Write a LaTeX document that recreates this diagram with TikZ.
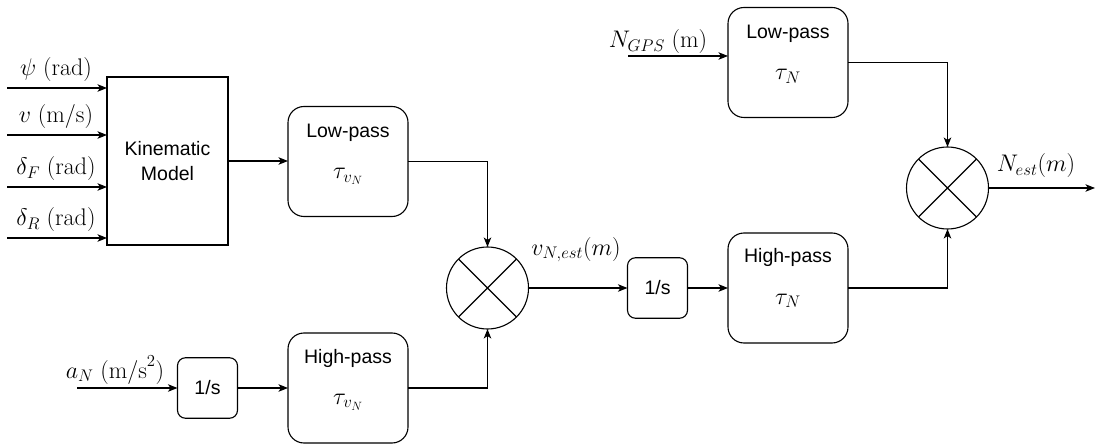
\RequirePackage{fix-cm}
\documentclass[tikz,border=0pt]{standalone}
\usepackage{fontspec}
\setsansfont{Liberation Sans}
\usetikzlibrary{arrows.meta,calc}
\tikzset{
  x=1pt, y=-1pt,
  every node/.style={inner sep=0pt, outer sep=0pt},
  ln/.style={line width=1.1pt},
  arr/.style={ln, -{Stealth[length=9.5pt,width=7.5pt,inset=2.5pt]}},
  bigbox/.style={draw, line width=1.1pt, rounded corners=16pt, minimum width=120pt, minimum height=110pt},
  intbox/.style={draw, line width=1.1pt, rounded corners=8pt, minimum width=60pt, minimum height=60.5pt,
     font=\sffamily\fontsize{19.5}{23}\selectfont},
  kmbox/.style={draw, line width=1.1pt, minimum width=121pt, minimum height=168pt, align=center,
     font=\sffamily\fontsize{19.5}{24.5}\selectfont},
  sumnode/.style={draw, line width=1.1pt, circle, minimum size=82pt},
  sftxt/.style={font=\sffamily\fontsize{19.5}{23}\selectfont, anchor=base},
  mtxt/.style={font=\fontsize{24}{28}\selectfont, anchor=base},
}
\begin{document}
\begin{tikzpicture}
\useasboundingbox (0,0) rectangle (1097,446);
% blocks
\node[kmbox] (km) at (167.5,161) {Kinematic\\Model};
\node[bigbox] (lp1) at (348,161.5) {};
\node[bigbox] (hp1) at (348,388) {};
\node[intbox] (int1) at (207.5,388) {1/s};
\node[sumnode] (sum1) at (487.5,288) {};
\node[intbox] (int2) at (657.5,288) {1/s};
\node[bigbox] (hp2) at (788,288) {};
\node[bigbox] (lp2) at (788,62.5) {};
\node[sumnode] (sum2) at (947.5,188) {};
% box texts
\node[sftxt] (lp1a) at ($(lp1.north)+(0,31)$) {Low-pass};
\node[mtxt] (lp1b) at ($(lp1.north)+(0,72)$) {$\tau_{v_N}$};
\node[sftxt] (hp1a) at ($(hp1.north)+(0,30)$) {High-pass};
\node[mtxt] (hp1b) at ($(hp1.north)+(0,71)$) {$\tau_{v_N}$};
\node[sftxt] (hp2a) at ($(hp2.north)+(0,30)$) {High-pass};
\node[mtxt] (hp2b) at ($(hp2.north)+(0,71)$) {$\tau_N$};
\node[sftxt] (lp2a) at ($(lp2.north)+(0,31)$) {Low-pass};
\node[mtxt] (lp2b) at ($(lp2.north)+(0,72)$) {$\tau_N$};
% crosses
\draw[ln] (sum1.north west) -- (sum1.south east) (sum1.north east) -- (sum1.south west);
\draw[ln] (sum2.north west) -- (sum2.south east) (sum2.north east) -- (sum2.south west);
% inputs
\coordinate (i1) at (7,88);
\coordinate (i2) at (7,135);
\coordinate (i3) at (7,187);
\coordinate (i4) at (7,238);
\coordinate (ia) at (77,388);
\coordinate (ig) at (628,56);
\coordinate (out) at (1095,188);
\draw[arr] (i1) -- (i1 -| km.west);
\draw[arr] (i2) -- (i2 -| km.west);
\draw[arr] (i3) -- (i3 -| km.west);
\draw[arr] (i4) -- (i4 -| km.west);
\node[mtxt] (l1) at (56,76) {$\psi\;(\mathrm{rad})$};
\node[mtxt] (l2) at (56,123) {$v\;(\mathrm{m/s})$};
\node[mtxt] (l3) at (56,175) {$\delta_F\;(\mathrm{rad})$};
\node[mtxt] (l4) at (56,226) {$\delta_R\;(\mathrm{rad})$};
\node[mtxt] (la) at (115,378) {$a_N\;(\mathrm{m/s}^2)$};
\node[mtxt] (lg) at (658,48) {$N_{GPS}\;(\mathrm{m})$};
\node[mtxt] (lv) at (576,255) {$v_{N,est}(m)$};
\node[mtxt] (ln) at (1036,172) {$N_{est}(m)$};
% connectors
\draw[arr] (km.east) -- (km.east -| lp1.west);
\draw[arr] (lp1.east) -| (sum1.north);
\draw[arr] (ia) -- (int1.west);
\draw[arr] (int1.east) -- (hp1.west);
\draw[arr] (hp1.east) -| (sum1.south);
\draw[arr] (sum1.east) -- (int2.west);
\draw[arr] (int2.east) -- (hp2.west);
\draw[arr] (hp2.east) -| (sum2.south);
\draw[arr] (ig) -- (ig -| lp2.west);
\draw[arr] (lp2.east) -| (sum2.north);
\draw[arr] (sum2.east) -- (out);
\end{tikzpicture}
\end{document}
